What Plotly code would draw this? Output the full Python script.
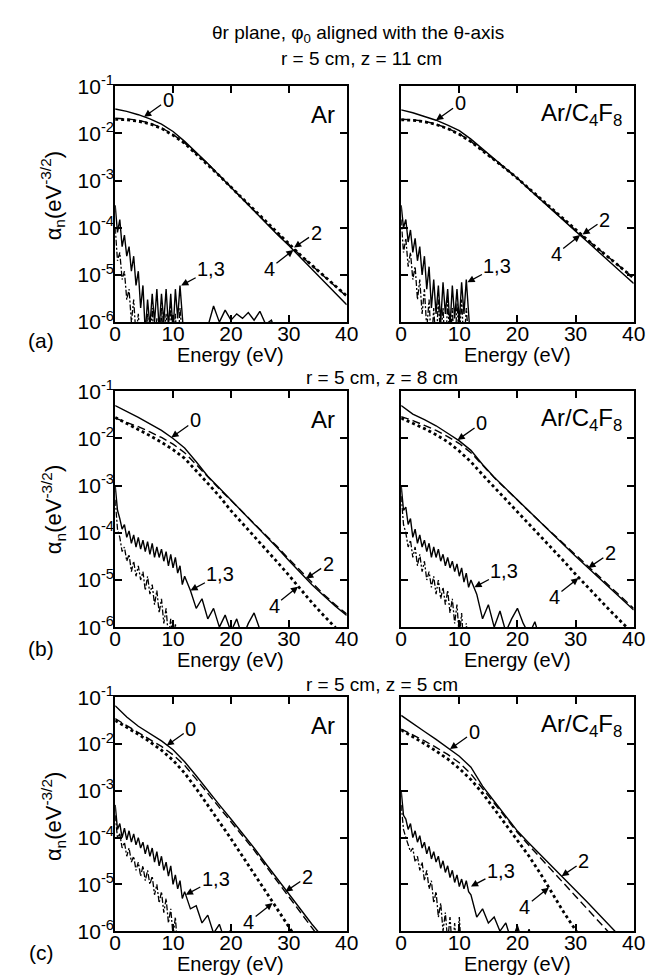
import math
import plotly.graph_objects as go

W, H = 662, 979
FONT = "Liberation Sans, Arial, Helvetica, sans-serif"

# ---------------- data ----------------
E_GRID = [0, 2, 4, 6, 8, 10, 12, 14, 16, 18, 20, 22, 24, 26, 28, 30, 32, 34, 36, 38, 40]
NOISE_E = [0.0, 0.4, 0.8, 1.2, 1.6, 2.0, 2.4, 2.8, 3.2, 3.6, 4.0, 4.4, 4.8, 5.2, 5.6, 6.0,
           6.4, 6.8, 7.2, 7.6, 8.0, 8.4, 8.8, 9.2, 9.6, 10.0, 10.4, 10.8, 11.2, 11.6, 12.0]
TAIL_E = [13, 14, 15, 16, 17, 18, 19, 20, 21, 22, 23, 24, 25, 26, 27, 28, 29, 30]

X_TICKS = [0, 10, 20, 30, 40]
X_TICK_TEXT = ["0", "10", "20", "30", "40"]
Y_TICKS = [1e-6, 1e-5, 1e-4, 1e-3, 1e-2, 1e-1]
Y_TICK_TEXT = ["10<sup>-6</sup>", "10<sup>-5</sup>", "10<sup>-4</sup>",
               "10<sup>-3</sup>", "10<sup>-2</sup>", "10<sup>-1</sup>"]

MAIN_TITLE = "θr plane, φ<sub>0</sub> aligned with the θ-axis"
ROW_TITLES = ["r = 5 cm, z = 11 cm", "r = 5 cm, z = 8 cm", "r = 5 cm, z = 5 cm"]
ROW_LETTERS = ["(a)", "(b)", "(c)"]
GAS_LABELS = ["Ar", "Ar/C<sub>4</sub>F<sub>8</sub>"]
X_TITLE = "Energy (eV)"
Y_TITLE = "α<sub>n</sub>(eV<sup>-3/2</sup>)"

# (a) r=5, z=11 -- Ar
a_ar_n0 = [3.3e-2, 2.95e-2, 2.5e-2, 2.04e-2, 1.58e-2, 1.1e-2, 6.8e-3, 4.0e-3, 2.3e-3, 1.29e-3, 7.2e-4,
           4.0e-4, 2.24e-4, 1.26e-4, 7.2e-5, 4.2e-5, 2.34e-5, 1.32e-5, 7.4e-6, 4.2e-6, 2.34e-6]
a_ar_n2 = [2.1e-2, 2.04e-2, 1.9e-2, 1.66e-2, 1.32e-2, 9.5e-3, 6.3e-3, 3.8e-3, 2.24e-3, 1.29e-3, 7.4e-4,
           4.2e-4, 2.34e-4, 1.32e-4, 7.6e-5, 4.4e-5, 2.6e-5, 1.58e-5, 9.5e-6, 5.8e-6, 3.5e-6]
a_ar_n4 = [2.0e-2, 1.95e-2, 1.82e-2, 1.6e-2, 1.28e-2, 9.2e-3, 6.2e-3, 3.7e-3, 2.2e-3, 1.27e-3, 7.3e-4,
           4.2e-4, 2.4e-4, 1.36e-4, 7.8e-5, 4.5e-5, 2.65e-5, 1.6e-5, 9.6e-6, 5.9e-6, 3.6e-6]
a_ar_n1 = [3e-4, 8e-5, 1.5e-4, 4e-5, 7e-5, 2.5e-5, 4e-5, 1.2e-5, 2.5e-5, 6e-6, 1.2e-5, 2e-6, 6e-6, 6e-7,
           3e-6, 8e-7, 4e-6, 1e-6, 5e-6, 7e-7, 4e-6, 1e-6, 5e-6, 8e-7, 4e-6, 6e-7, 5e-6, 1.2e-6, 6e-6,
           1e-6, 3e-7]
a_ar_n1_tail = [2e-7, 3e-7, 5e-7, 8e-7, 2.2e-6, 1e-6, 1.8e-6, 1.1e-6, 1.5e-6, 1.2e-6, 1.6e-6, 1.1e-6,
                1.7e-6, 9e-7, 1.1e-6, 4e-7, 2e-7, 2e-7]
a_ar_n3 = [1e-4, 2e-5, 3e-5, 8e-6, 1.2e-5, 3e-6, 5e-6, 1e-6, 3e-6, 5e-7, 1.5e-6, 3e-7, 1e-6, 2e-7, 1.5e-6,
           2e-7, 2e-6, 3e-7, 1.2e-6, 2e-7, 2e-6, 3e-7, 1.5e-6, 2e-7, 2.5e-6, 3e-7, 1.5e-6, 2e-7, 2e-6,
           2e-7, 1e-7]

# (a) -- Ar/C4F8
a_c4f8_n0 = [3.16e-2, 2.75e-2, 2.29e-2, 1.91e-2, 1.51e-2, 1.15e-2, 7.6e-3, 4.7e-3, 2.95e-3, 1.82e-3,
             1.12e-3, 6.6e-4, 4.0e-4, 2.4e-4, 1.41e-4, 8.5e-5, 5.1e-5, 3.1e-5, 1.86e-5, 1.1e-5, 6.6e-6]
a_c4f8_n2 = [2.0e-2, 1.95e-2, 1.82e-2, 1.58e-2, 1.29e-2, 9.8e-3, 6.8e-3, 4.4e-3, 2.8e-3, 1.78e-3,
             1.12e-3, 6.8e-4, 4.2e-4, 2.5e-4, 1.48e-4, 8.9e-5, 5.5e-5, 3.5e-5, 2.2e-5, 1.38e-5, 8.7e-6]
a_c4f8_n4 = [1.95e-2, 1.9e-2, 1.78e-2, 1.55e-2, 1.27e-2, 9.6e-3, 6.7e-3, 4.35e-3, 2.8e-3, 1.78e-3,
             1.12e-3, 6.8e-4, 4.2e-4, 2.55e-4, 1.5e-4, 9.0e-5, 5.6e-5, 3.5e-5, 2.2e-5, 1.38e-5, 8.6e-6]
a_c4f8_n1 = [3e-4, 1e-4, 1.5e-4, 5e-5, 9e-5, 3e-5, 6e-5, 2e-5, 4e-5, 1e-5, 2.5e-5, 5e-6, 1.5e-5, 2e-6,
             8e-6, 1.5e-6, 6e-6, 1e-6, 7e-6, 1.5e-6, 5e-6, 8e-7, 6e-6, 1.2e-6, 5e-6, 1e-6, 7e-6, 1.5e-6,
             8e-6, 1e-6, 3e-7]
a_c4f8_n1_tail = []
a_c4f8_n3 = [1.5e-4, 3e-5, 6e-5, 1.5e-5, 3e-5, 8e-6, 1.5e-5, 3e-6, 8e-6, 1.5e-6, 5e-6, 7e-7, 3e-6, 3e-7,
             2e-6, 3e-7, 3e-6, 4e-7, 2e-6, 2e-7, 3e-6, 3e-7, 2e-6, 2e-7, 2.5e-6, 4e-7, 3e-6, 3e-7, 2e-6,
             2e-7, 1e-7]

# (b) r=5, z=8 -- Ar
b_ar_n0 = [5.0e-2, 3.8e-2, 2.8e-2, 2.04e-2, 1.48e-2, 1.0e-2, 6.3e-3, 3.2e-3, 1.58e-3, 8.9e-4, 5.0e-4,
           2.8e-4, 1.58e-4, 8.7e-5, 4.8e-5, 2.6e-5, 1.45e-5, 7.9e-6, 4.7e-6, 2.8e-6, 1.78e-6]
b_ar_n2 = [2.7e-2, 2.2e-2, 1.78e-2, 1.38e-2, 1.05e-2, 7.6e-3, 5.0e-3, 2.8e-3, 1.51e-3, 8.5e-4, 4.9e-4,
           2.8e-4, 1.62e-4, 9.1e-5, 5.1e-5, 2.8e-5, 1.55e-5, 8.7e-6, 5.0e-6, 3.0e-6, 1.9e-6]
b_ar_n4 = [2.8e-2, 2.1e-2, 1.58e-2, 1.15e-2, 8.3e-3, 5.8e-3, 3.8e-3, 2.1e-3, 1.12e-3, 6.0e-4, 2.95e-4,
           1.58e-4, 8.5e-5, 4.6e-5, 2.4e-5, 1.26e-5, 6.3e-6, 3.3e-6, 1.78e-6, 9.5e-7, 5.5e-7]
b_ar_n1 = [1e-3, 3e-4, 2e-4, 1.2e-4, 1.5e-4, 8e-5, 1.1e-4, 6e-5, 9e-5, 5e-5, 8e-5, 4.5e-5, 7e-5, 4e-5,
           6.5e-5, 3.5e-5, 6e-5, 3e-5, 5e-5, 3e-5, 4.5e-5, 2.5e-5, 4e-5, 2e-5, 3.5e-5, 1.8e-5, 3e-5,
           1.4e-5, 2e-5, 8e-6, 1.2e-5]
b_ar_n1_tail = [6e-6, 2.5e-6, 4e-6, 1.5e-6, 2.5e-6, 1e-6, 1.8e-6, 8e-7, 1.5e-6, 6e-7, 1.2e-6, 2e-6,
                9e-7, 4e-7, 1e-6, 3e-7, 2e-7, 1e-7]
b_ar_n3 = [5e-4, 1.2e-4, 8e-5, 4e-5, 5e-5, 2.5e-5, 3.5e-5, 1.5e-5, 2.5e-5, 1.2e-5, 2e-5, 1e-5, 1.5e-5,
           6e-6, 1.2e-5, 5e-6, 8e-6, 3e-6, 6e-6, 2e-6, 4e-6, 1.2e-6, 2.5e-6, 6e-7, 1.5e-6, 4e-7, 1.2e-6,
           3e-7, 8e-7, 2e-7, 1e-7]

# (b) -- Ar/C4F8
b_c4f8_n0 = [5.0e-2, 3.3e-2, 2.5e-2, 1.86e-2, 1.29e-2, 8.9e-3, 5.6e-3, 2.8e-3, 1.51e-3, 8.7e-4, 4.9e-4,
             2.75e-4, 1.62e-4, 9.5e-5, 5.5e-5, 3.2e-5, 1.86e-5, 1.12e-5, 6.6e-6, 3.9e-6, 2.3e-6]
b_c4f8_n2 = [2.9e-2, 2.4e-2, 1.9e-2, 1.48e-2, 1.1e-2, 7.8e-3, 5.0e-3, 2.7e-3, 1.48e-3, 8.5e-4, 4.9e-4,
             2.8e-4, 1.66e-4, 9.8e-5, 5.8e-5, 3.4e-5, 2.0e-5, 1.2e-5, 7.1e-6, 4.2e-6, 2.5e-6]
b_c4f8_n4 = [2.7e-2, 2.1e-2, 1.62e-2, 1.2e-2, 8.5e-3, 5.4e-3, 3.2e-3, 1.7e-3, 9.3e-4, 5.1e-4, 2.8e-4,
             1.55e-4, 8.5e-5, 4.7e-5, 2.5e-5, 1.32e-5, 7.1e-6, 4.0e-6, 2.2e-6, 1.26e-6, 7.1e-7]
b_c4f8_n1 = [1e-3, 3e-4, 3.5e-4, 1.5e-4, 2e-4, 8e-5, 1.2e-4, 6e-5, 9e-5, 5e-5, 7e-5, 4e-5, 6e-5, 3e-5,
             5e-5, 3e-5, 4.5e-5, 2.5e-5, 3.5e-5, 2e-5, 3e-5, 1.8e-5, 2.5e-5, 1.5e-5, 2.2e-5, 1.2e-5,
             1.8e-5, 9e-6, 1.4e-5, 7e-6, 1e-5]
b_c4f8_n1_tail = [5e-6, 1.5e-6, 3e-6, 1e-6, 2.2e-6, 8e-7, 1.5e-6, 2.5e-6, 1.2e-6, 7e-7, 1.3e-6, 5e-7,
                  1e-6, 3e-7, 2e-7, 1e-7, 1e-7, 1e-7]
b_c4f8_n3 = [6e-4, 1.5e-4, 1e-4, 5e-5, 7e-5, 3e-5, 5e-5, 2e-5, 3.5e-5, 1.5e-5, 2.5e-5, 1e-5, 1.5e-5,
             7e-6, 1.2e-5, 5e-6, 1e-5, 4e-6, 7e-6, 3e-6, 6e-6, 2e-6, 4e-6, 1.2e-6, 3e-6, 6e-7, 2e-6,
             3e-7, 1.2e-6, 2e-7, 1e-7]

# (c) r=5, z=5 -- Ar
c_ar_n0 = [6.6e-2, 3.8e-2, 2.4e-2, 1.66e-2, 1.17e-2, 7.6e-3, 4.2e-3, 2.1e-3, 1.0e-3, 5.0e-4, 2.5e-4,
           1.26e-4, 6.0e-5, 2.8e-5, 1.32e-5, 6.3e-6, 3.0e-6, 1.41e-6, 7.1e-7, 3.5e-7, 1.7e-7]
c_ar_n2 = [3.5e-2, 2.5e-2, 1.78e-2, 1.26e-2, 8.9e-3, 5.9e-3, 3.5e-3, 1.78e-3, 8.9e-4, 4.5e-4, 2.2e-4,
           1.12e-4, 5.4e-5, 2.5e-5, 1.17e-5, 5.5e-6, 2.6e-6, 1.2e-6, 5.6e-7, 2.6e-7, 1.2e-7]
c_ar_n4 = [3.2e-2, 2.3e-2, 1.62e-2, 1.12e-2, 7.4e-3, 4.5e-3, 2.4e-3, 1.12e-3, 5.0e-4, 2.2e-4, 9.5e-5,
           4.0e-5, 1.66e-5, 6.8e-6, 2.75e-6, 1.12e-6, 5.0e-7, 2.2e-7, 1.0e-7, 5.0e-8, 2.0e-8]
c_ar_n1 = [5e-4, 1.5e-4, 2e-4, 1e-4, 1.6e-4, 9e-5, 1.4e-4, 8e-5, 1.2e-4, 7e-5, 1e-4, 6e-5, 8e-5, 4.5e-5,
           7e-5, 4e-5, 6e-5, 3e-5, 5e-5, 2.5e-5, 4e-5, 2e-5, 3e-5, 1.5e-5, 2.5e-5, 1e-5, 1.6e-5, 8e-6,
           1.2e-5, 5e-6, 7e-6]
c_ar_n1_tail = [3e-6, 3.5e-6, 1.5e-6, 2.2e-6, 9e-7, 1.4e-6, 6e-7, 1.1e-6, 4e-7, 9e-7, 2e-7, 1e-7, 1e-7,
                1e-7, 1e-7, 1e-7, 1e-7, 1e-7]
c_ar_n3 = [3e-4, 1e-4, 1.2e-4, 6e-5, 8e-5, 4e-5, 6e-5, 3e-5, 4e-5, 2e-5, 3e-5, 1.5e-5, 2.5e-5, 1.2e-5,
           2e-5, 1e-5, 1.5e-5, 6e-6, 1e-5, 4e-6, 7e-6, 2.5e-6, 5e-6, 1.5e-6, 3e-6, 8e-7, 2e-6, 4e-7,
           1e-6, 2e-7, 1e-7]

# (c) -- Ar/C4F8
c_c4f8_n0 = [4.1e-2, 2.7e-2, 1.86e-2, 1.26e-2, 8.5e-3, 5.5e-3, 3.2e-3, 1.26e-3, 6.0e-4, 2.9e-4, 1.38e-4,
             7.6e-5, 4.3e-5, 2.4e-5, 1.35e-5, 7.6e-6, 4.2e-6, 2.3e-6, 1.26e-6, 6.9e-7, 3.8e-7]
c_c4f8_n2 = [2.1e-2, 1.58e-2, 1.17e-2, 8.5e-3, 6.0e-3, 4.0e-3, 2.3e-3, 1.12e-3, 5.4e-4, 2.6e-4, 1.29e-4,
             6.8e-5, 3.6e-5, 1.95e-5, 1.05e-5, 5.6e-6, 3.0e-6, 1.62e-6, 8.7e-7, 4.7e-7, 2.5e-7]
c_c4f8_n4 = [2.0e-2, 1.45e-2, 1.02e-2, 7.1e-3, 4.8e-3, 3.0e-3, 1.74e-3, 8.9e-4, 4.2e-4, 1.9e-4, 8.7e-5,
             4.0e-5, 1.66e-5, 6.3e-6, 2.5e-6, 1.05e-6, 4.5e-7, 2.0e-7, 1.0e-7, 5.0e-8, 2.0e-8]
c_c4f8_n1 = [1e-3, 3e-4, 2.5e-4, 1.5e-4, 2e-4, 1e-4, 1.4e-4, 8e-5, 1.1e-4, 6e-5, 8e-5, 4.5e-5, 6.5e-5,
             3.5e-5, 5e-5, 3e-5, 4e-5, 2.2e-5, 3.2e-5, 1.8e-5, 2.5e-5, 1.4e-5, 2e-5, 1.1e-5, 1.6e-5, 9e-6,
             1.3e-5, 8e-6, 1.2e-5, 7e-6, 6e-6]
c_c4f8_n1_tail = [2e-6, 3e-6, 1.5e-6, 2e-6, 1e-6, 1.5e-6, 6e-7, 1.3e-6, 5e-7, 1.1e-6, 4e-7, 1e-6, 3e-7,
                  9e-7, 2e-7, 8e-7, 2e-7, 1e-7]
c_c4f8_n3 = [5e-4, 1.5e-4, 1e-4, 7e-5, 5e-5, 6e-5, 3e-5, 4e-5, 2e-5, 3e-5, 1.2e-5, 2e-5, 8e-6, 1.2e-5,
             4e-6, 7e-6, 2e-6, 4e-6, 1e-6, 2.5e-6, 6e-7, 2e-6, 4e-7, 1.5e-6, 3e-7, 2e-6, 3e-7, 1e-6, 2e-7,
             5e-7, 1e-7]

# arrow labels: (text, energy eV, value pointed at)
a_ar_labels = [("0", 5.0, 2.25e-2), ("2", 30.9, 3.8e-5), ("4", 30.8, 3.4e-5), ("1,3", 11.4, 6e-6)]
a_c4f8_labels = [("0", 6.0, 1.9e-2), ("2", 31.2, 7.2e-5), ("4", 30.8, 7.0e-5), ("1,3", 11.4, 7e-6)]
b_ar_labels = [("0", 9.7, 1.05e-2), ("2", 33.0, 1.07e-5), ("4", 31.6, 7.2e-6), ("1,3", 13.0, 6e-6)]
b_c4f8_labels = [("0", 9.7, 9.3e-3), ("2", 32.2, 1.8e-5), ("4", 30.5, 1.1e-5), ("1,3", 12.6, 7e-6)]
c_ar_labels = [("0", 8.9, 9.3e-3), ("2", 29.4, 7e-6), ("4", 27.2, 4e-6), ("1,3", 12.2, 6e-6)]
c_c4f8_labels = [("0", 8.4, 7.8e-3), ("2", 27.6, 1.5e-5), ("4", 25.4, 8.5e-6), ("1,3", 12.0, 9e-6)]

PANELS = [
    dict(n0=a_ar_n0, n2=a_ar_n2, n4=a_ar_n4, n1=a_ar_n1, n1t=a_ar_n1_tail, n3=a_ar_n3, lab=a_ar_labels),
    dict(n0=a_c4f8_n0, n2=a_c4f8_n2, n4=a_c4f8_n4, n1=a_c4f8_n1, n1t=a_c4f8_n1_tail, n3=a_c4f8_n3, lab=a_c4f8_labels),
    dict(n0=b_ar_n0, n2=b_ar_n2, n4=b_ar_n4, n1=b_ar_n1, n1t=b_ar_n1_tail, n3=b_ar_n3, lab=b_ar_labels),
    dict(n0=b_c4f8_n0, n2=b_c4f8_n2, n4=b_c4f8_n4, n1=b_c4f8_n1, n1t=b_c4f8_n1_tail, n3=b_c4f8_n3, lab=b_c4f8_labels),
    dict(n0=c_ar_n0, n2=c_ar_n2, n4=c_ar_n4, n1=c_ar_n1, n1t=c_ar_n1_tail, n3=c_ar_n3, lab=c_ar_labels),
    dict(n0=c_c4f8_n0, n2=c_c4f8_n2, n4=c_c4f8_n4, n1=c_c4f8_n1, n1t=c_c4f8_n1_tail, n3=c_c4f8_n3, lab=c_c4f8_labels),
]

# ---------------- layout geometry (pixels) ----------------
COL_X = [(104, 342), (398, 637)]
ROW_Y = [(66, 308), (379, 621), (693, 933)]
ARROW_OFFSETS = {"0": (24, -17), "2": (22, -15), "4": (-24, 19), "1,3": (30, -16)}


def px(x):
    return x / W


def py(y):
    return 1 - y / H


fig = go.Figure()
layout = dict(
    width=W, height=H, autosize=False,
    margin=dict(l=0, r=0, t=0, b=0),
    paper_bgcolor="white", plot_bgcolor="white",
    showlegend=False,
    font=dict(family=FONT, color="black"),
)
annotations = []

for k, p in enumerate(PANELS, start=1):
    row, col = (k - 1) // 2, (k - 1) % 2
    xa = "x" if k == 1 else f"x{k}"
    ya = "y" if k == 1 else f"y{k}"
    x0, x1 = COL_X[col]
    y0, y1 = ROW_Y[row]

    layout["xaxis" if k == 1 else f"xaxis{k}"] = dict(
        domain=[px(x0), px(x1)], anchor=ya, range=[0, 40],
        tickvals=X_TICKS, ticktext=X_TICK_TEXT,
        ticks="inside", ticklen=7, tickwidth=1.5, tickcolor="black",
        ticklabelstandoff=-8,
        showline=True, linecolor="black", linewidth=2, mirror="ticks",
        showgrid=False, zeroline=False,
        tickfont=dict(family=FONT, size=21, color="black"),
    )
    layout["yaxis" if k == 1 else f"yaxis{k}"] = dict(
        domain=[py(y1), py(y0)], anchor=xa, type="log", range=[-6, -1],
        tickvals=Y_TICKS, ticktext=Y_TICK_TEXT, showticklabels=(col == 0),
        ticks="inside", ticklen=7, tickwidth=1.5, tickcolor="black",
        ticklabelstandoff=-5,
        showline=True, linecolor="black", linewidth=2, mirror="ticks",
        showgrid=False, zeroline=False,
        tickfont=dict(family=FONT, size=21, color="black"),
    )

    # noise curves 1 and 3
    fig.add_trace(go.Scatter(x=NOISE_E, y=p["n3"], mode="lines", xaxis=xa, yaxis=ya,
                             line=dict(color="black", width=1.3, dash="6px,2px,2px,2px")))
    n1_x = NOISE_E + TAIL_E[:len(p["n1t"])]
    fig.add_trace(go.Scatter(x=n1_x, y=p["n1"] + p["n1t"], mode="lines", xaxis=xa, yaxis=ya,
                             line=dict(color="black", width=1.4)))
    # n = 4 dotted, n = 2 dashed, n = 0 solid
    fig.add_trace(go.Scatter(x=E_GRID, y=p["n4"], mode="lines", xaxis=xa, yaxis=ya,
                             line=dict(color="black", width=2.8, dash="3px,3px")))
    fig.add_trace(go.Scatter(x=E_GRID, y=p["n2"], mode="lines", xaxis=xa, yaxis=ya,
                             line=dict(color="black", width=1.4, dash="8px,4px")))
    fig.add_trace(go.Scatter(x=E_GRID, y=p["n0"], mode="lines", xaxis=xa, yaxis=ya,
                             line=dict(color="black", width=1.4)))

    # arrows with labels
    for text, e, v in p["lab"]:
        axo, ayo = ARROW_OFFSETS[text]
        annotations.append(dict(
            x=e, y=math.log10(v), xref=xa, yref=ya, text=text,
            showarrow=True, arrowhead=2, arrowsize=1.1, arrowwidth=1.3, arrowcolor="black",
            ax=axo, ay=ayo, standoff=0, startstandoff=0,
            font=dict(family=FONT, size=20, color="black"),
        ))

    # gas label
    annotations.append(dict(
        x=px(x1 - 10), y=py(y0 + 29), xref="paper", yref="paper",
        xanchor="right", yanchor="middle", showarrow=False,
        text=GAS_LABELS[col], font=dict(family=FONT, size=24, color="black"),
    ))
    # x-axis title
    annotations.append(dict(
        x=px((x0 + x1) / 2), y=py(y1 + 34), xref="paper", yref="paper",
        xanchor="center", yanchor="middle", showarrow=False,
        text=X_TITLE, font=dict(family=FONT, size=20, color="black"),
    ))

# y titles and row letters, row titles
Y_TITLE_OFFSETS = [-9, 0, 2]
SUBTITLE_POS = [(357, 37), (378, 365), (378, 680)]
LETTER_Y = [327, 643, 955]
for r in range(3):
    y0, y1 = ROW_Y[r]
    annotations.append(dict(
        x=px(40), y=py((y0 + y1) / 2 + Y_TITLE_OFFSETS[r]), xref="paper", yref="paper",
        xanchor="center", yanchor="middle", showarrow=False, textangle=-90,
        text=Y_TITLE, font=dict(family=FONT, size=22, color="black"),
    ))
    annotations.append(dict(
        x=px(28), y=py(LETTER_Y[r]), xref="paper", yref="paper",
        xanchor="center", yanchor="middle", showarrow=False,
        text=ROW_LETTERS[r], font=dict(family=FONT, size=21, color="black"),
    ))
    sx, sy = SUBTITLE_POS[r]
    annotations.append(dict(
        x=px(sx), y=py(sy), xref="paper", yref="paper",
        xanchor="center", yanchor="middle", showarrow=False,
        text=ROW_TITLES[r], font=dict(family=FONT, size=19, color="black"),
    ))

annotations.append(dict(
    x=px(354), y=py(12), xref="paper", yref="paper",
    xanchor="center", yanchor="middle", showarrow=False,
    text=MAIN_TITLE, font=dict(family=FONT, size=19, color="black"),
))

layout["annotations"] = annotations
fig.update_layout(**layout)
fig.write_html("out.html")
